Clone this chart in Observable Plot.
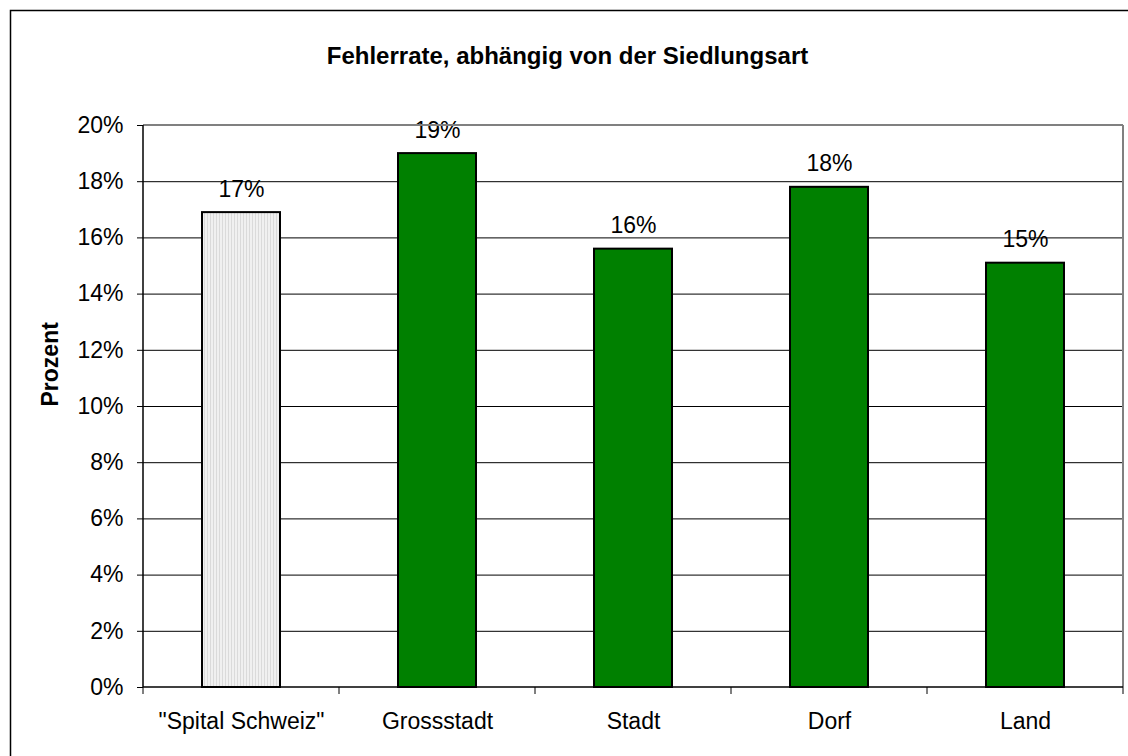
<!DOCTYPE html>
<html><head><meta charset="utf-8">
<script src="https://cdn.jsdelivr.net/npm/d3@7"></script>
<script src="https://cdn.jsdelivr.net/npm/@observablehq/plot@0.6"></script>
<style>body{margin:0;background:#fff} svg{display:block}</style>
</head><body><div id="chart"></div>
<script>
const title = "Fehlerrate, abhängig von der Siedlungsart";
const yLabel = "Prozent";
const categories = ["\"Spital Schweiz\"", "Grossstadt", "Stadt", "Dorf", "Land"];
const values = [0.169, 0.190, 0.156, 0.178, 0.151];
const referenceCategory = "\"Spital Schweiz\"";
const yTicks = [0, 0.02, 0.04, 0.06, 0.08, 0.10, 0.12, 0.14, 0.16, 0.18, 0.20];

const data = categories.map((c, i) => ({category: c, value: values[i]}));
const pct = d3.format(".0%");
const FONT = "'Liberation Sans', Arial, sans-serif";

function frameLines(index, scales, values, dims) {
  const x = scales.x;
  const l = dims.marginLeft, r = dims.width - dims.marginRight;
  const t = dims.marginTop, b = dims.height - dims.marginBottom;
  const step = x.step ? x.step() : (x(categories[1]) - x(categories[0]));
  const bw = x.bandwidth ? x.bandwidth() : step * 0.4;
  const g = d3.create("svg:g");
  // outer chart border
  g.append("rect").attr("x", 10.5).attr("y", 10.5).attr("width", 1300).attr("height", 900)
    .attr("fill", "none").attr("stroke", "#000").attr("stroke-width", 1.5);
  // plot border top/right gray
  g.append("line").attr("x1", l).attr("x2", r).attr("y1", t).attr("y2", t)
    .attr("stroke", "#808080").attr("stroke-width", 2);
  g.append("line").attr("x1", r).attr("x2", r).attr("y1", t).attr("y2", b + 7)
    .attr("stroke", "#808080").attr("stroke-width", 2);
  // left and bottom axis lines
  g.append("line").attr("x1", l).attr("x2", l).attr("y1", t).attr("y2", b)
    .attr("stroke", "#000").attr("stroke-width", 1.5);
  g.append("line").attr("x1", l).attr("x2", r).attr("y1", b).attr("y2", b)
    .attr("stroke", "#000").attr("stroke-width", 1.5);
  // category boundary ticks
  const bounds = categories.map(c => x(c) - (step - bw) / 2);
  bounds.forEach(px => {
    g.append("line").attr("x1", px).attr("x2", px).attr("y1", b).attr("y2", b + 7)
      .attr("stroke", "#000").attr("stroke-width", 1);
  });
  return g.node();
}

const chart = Plot.plot({
  width: 1128,
  height: 756,
  marginLeft: 143,
  marginRight: 5,
  marginTop: 125,
  marginBottom: 69,
  style: {fontFamily: FONT, fontSize: "23px", color: "#000", background: "#fff"},
  x: {domain: categories, paddingInner: 0.6, paddingOuter: 0.3, label: null},
  y: {domain: [0, 0.2], label: null},
  marks: [
    Plot.gridY(yTicks.filter(v => v > 0 && v < 0.2), {stroke: "#000", strokeOpacity: 1, strokeWidth: 1}),
    Plot.barY(data.filter(d => d.category === referenceCategory),
      {x: "category", y: "value", fill: "url(#vstripes)", stroke: "#000", strokeWidth: 2}),
    Plot.barY(data.filter(d => d.category !== referenceCategory),
      {x: "category", y: "value", fill: "#008000", stroke: "#000", strokeWidth: 2}),
    Plot.text(data, {x: "category", y: "value", text: d => pct(d.value), lineAnchor: "bottom",
      dy: -16, fontSize: 23, fill: "#000"}),
    Plot.axisY({ticks: yTicks, tickFormat: pct, tickSize: 6, tickPadding: 14, fontSize: 23, label: null, stroke: "#000"}),
    Plot.axisX({tickSize: 0, tickPadding: 25, fontSize: 23, label: null}),
    Plot.text([yLabel], {frameAnchor: "left", rotate: -90, dx: -93, fontSize: 23, fontWeight: "bold", fill: "#000"}),
    Plot.text([title], {frameAnchor: "top", dy: -62, dx: -66, lineAnchor: "bottom", fontSize: 24, fontWeight: "bold", fill: "#000"}),
    frameLines
  ]
});

const defs = d3.select(chart).insert("defs", ":first-child");
const pat = defs.append("pattern").attr("id", "vstripes").attr("patternUnits", "userSpaceOnUse")
  .attr("width", 3).attr("height", 10);
pat.append("rect").attr("width", 3).attr("height", 10).attr("fill", "#f0f0f0");
pat.append("rect").attr("width", 1).attr("height", 10).attr("fill", "#dadada");

document.getElementById("chart").appendChild(chart);
</script>
</body></html>
